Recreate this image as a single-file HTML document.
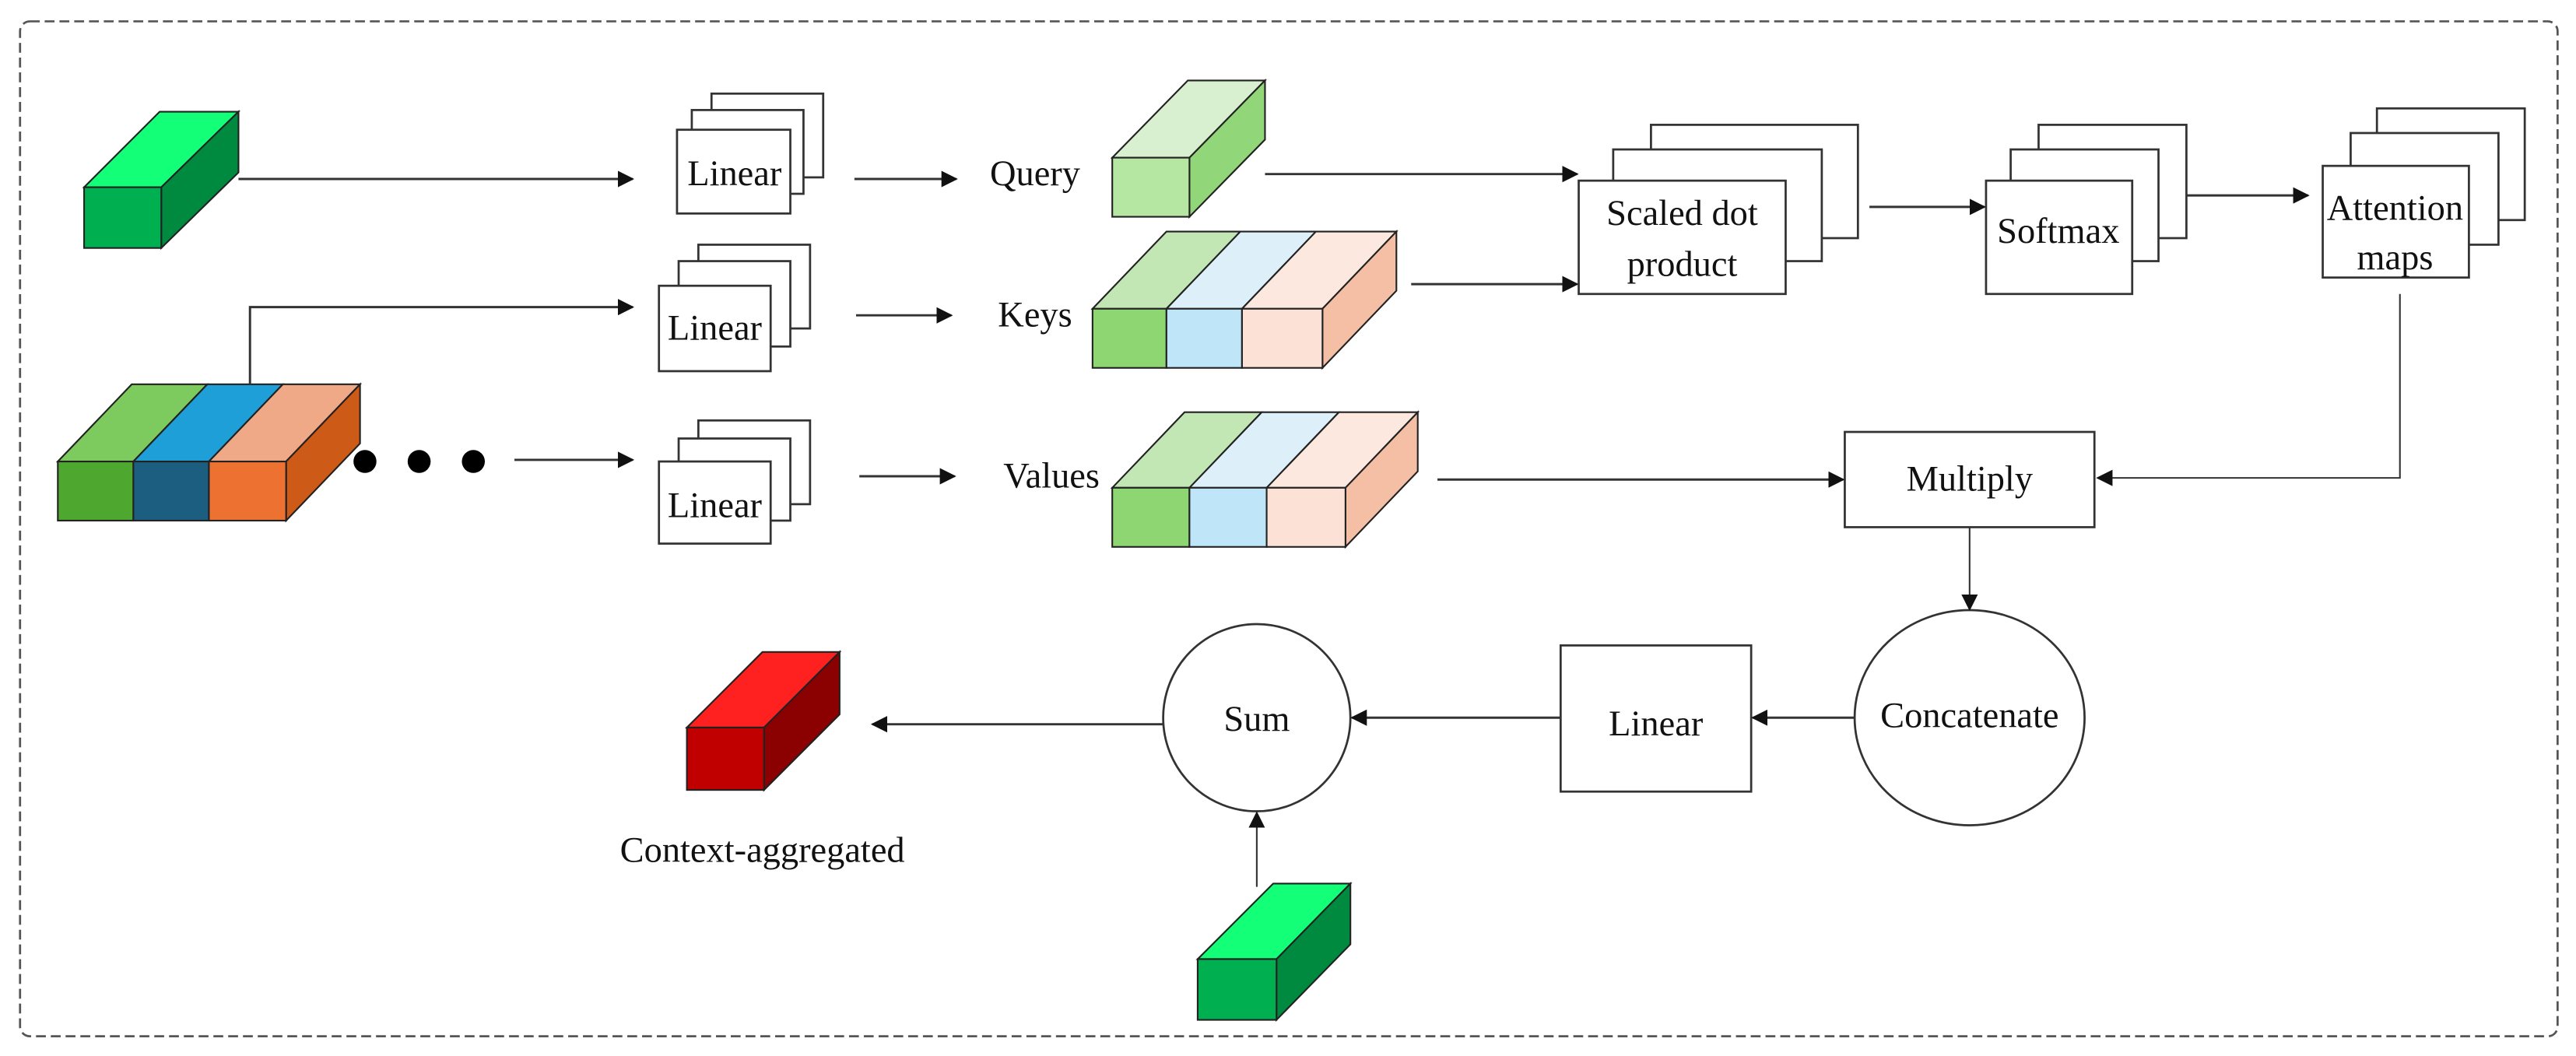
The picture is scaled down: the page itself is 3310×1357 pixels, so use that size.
<!DOCTYPE html>
<html><head><meta charset="utf-8"><style>
html,body{margin:0;padding:0;background:#fff;}
svg{display:block;}
text{font-family:"Liberation Serif",serif;font-size:22px;fill:#111;}
</style></head><body>
<svg width="3310" height="1357" viewBox="0 0 1568 643" xmlns="http://www.w3.org/2000/svg">
<defs>
<marker id="a" markerWidth="10" markerHeight="10" refX="9" refY="5" orient="auto" markerUnits="userSpaceOnUse">
<path d="M0,0 L10,5 L0,10 Z" fill="#111"/></marker>
</defs>
<rect x="12" y="13" width="1545" height="618" rx="6" fill="none" stroke="#555" stroke-width="1.3" stroke-dasharray="6,3"/>
<g stroke="#222" stroke-width="1">
<!-- green cube top-left -->
<polygon points="51,114 97,68 145,68 98,114" fill="#14FF78"/>
<polygon points="98,114 145,68 145,105 98,151" fill="#008A40"/>
<rect x="51" y="114" width="47" height="37" fill="#00B050"/>
<!-- query cube -->
<polygon points="677,96 723,49 770,49 724,96" fill="#D9F0D0"/>
<polygon points="724,96 770,49 770,85 724,132" fill="#92D67A"/>
<rect x="677" y="96" width="47" height="36" fill="#B5E6A2"/>
<!-- keys cube -->
<polygon points="665,188 710,141 755,141 710,188" fill="#C3E6B5"/>
<polygon points="710,188 755,141 801,141 756,188" fill="#DDF0FA"/>
<polygon points="756,188 801,141 850,141 805,188" fill="#FCE8DE"/>
<polygon points="805,188 850,141 850,177 805,224" fill="#F4BFA4"/>
<rect x="665" y="188" width="45" height="36" fill="#8ED672"/>
<rect x="710" y="188" width="46" height="36" fill="#BFE6F8"/>
<rect x="756" y="188" width="49" height="36" fill="#FCE2D6"/>
<!-- big cube -->
<polygon points="35,281 80,234 126,234 81,281" fill="#7DCB5E"/>
<polygon points="81,281 126,234 172,234 127,281" fill="#1F9FD7"/>
<polygon points="127,281 172,234 219,234 174,281" fill="#F0A987"/>
<polygon points="174,281 219,234 219,270 174,317" fill="#CE5A18"/>
<rect x="35" y="281" width="46" height="36" fill="#4EA72E"/>
<rect x="81" y="281" width="46" height="36" fill="#1B5E80"/>
<rect x="127" y="281" width="47" height="36" fill="#ED7232"/>
<!-- values cube -->
<polygon points="677,297 721,251 768,251 724,297" fill="#C3E6B5"/>
<polygon points="724,297 768,251 815,251 771,297" fill="#DDF0FA"/>
<polygon points="771,297 815,251 863,251 819,297" fill="#FCE8DE"/>
<polygon points="819,297 863,251 863,287 819,333" fill="#F4BFA4"/>
<rect x="677" y="297" width="47" height="36" fill="#8ED672"/>
<rect x="724" y="297" width="47" height="36" fill="#BFE6F8"/>
<rect x="771" y="297" width="48" height="36" fill="#FCE2D6"/>
<!-- red cube -->
<polygon points="418,443 464,397 511,397 465,443" fill="#FF2020"/>
<polygon points="465,443 511,397 511,435 465,481" fill="#8B0000"/>
<rect x="418" y="443" width="47" height="38" fill="#C00000"/>
<!-- bottom green cube -->
<polygon points="729,584 775,538 822,538 777,584" fill="#14FF78"/>
<polygon points="777,584 822,538 822,575 777,621" fill="#008A40"/>
<rect x="729" y="584" width="48" height="37" fill="#00B050"/>
</g>
<!-- dots -->
<g fill="#000"><ellipse cx="222" cy="281" rx="7" ry="7"/><ellipse cx="255" cy="281" rx="7" ry="7"/><ellipse cx="288" cy="281" rx="7" ry="7"/></g>
<!-- stacked boxes -->
<g fill="#fff" stroke="#333" stroke-width="1.3">
<rect x="433" y="57" width="68" height="51"/><rect x="421" y="67" width="68" height="51"/><rect x="412" y="79" width="69" height="51"/>
<rect x="425" y="149" width="68" height="51"/><rect x="413" y="159" width="68" height="52"/><rect x="401" y="174" width="68" height="52"/>
<rect x="425" y="256" width="68" height="51"/><rect x="413" y="267" width="68" height="50"/><rect x="401" y="281" width="68" height="50"/>
<rect x="1005" y="76" width="126" height="69"/><rect x="982" y="91" width="127" height="68"/><rect x="961" y="110" width="126" height="69"/>
<rect x="1241" y="76" width="90" height="69"/><rect x="1224" y="91" width="90" height="68"/><rect x="1209" y="110" width="89" height="69"/>
<rect x="1447" y="66" width="90" height="68"/><rect x="1431" y="81" width="90" height="68"/><rect x="1414" y="101" width="89" height="68"/>
<rect x="1123" y="263" width="152" height="58"/>
<rect x="950" y="393" width="116" height="89"/>
<ellipse cx="1199" cy="437" rx="70" ry="65.5"/>
<ellipse cx="765" cy="437" rx="57" ry="57"/>
</g>
<!-- connectors -->
<g fill="none" stroke="#333" stroke-width="1.4" marker-end="url(#a)">
<line x1="145" y1="109" x2="385" y2="109"/>
<line x1="520" y1="109" x2="582" y2="109"/>
<polyline points="152,234 152,187 385,187"/>
<line x1="521" y1="192" x2="579" y2="192"/>
<line x1="313" y1="280" x2="385" y2="280"/>
<line x1="523" y1="290" x2="581" y2="290"/>
<line x1="770" y1="106" x2="960" y2="106"/>
<line x1="859" y1="173" x2="960" y2="173"/>
<line x1="1138" y1="126" x2="1208" y2="126"/>
<line x1="1331" y1="119" x2="1405" y2="119"/>
<polyline points="1461,179 1461,291 1277,291" stroke-width="1"/>
<line x1="875" y1="292" x2="1122" y2="292"/>
<line x1="1199" y1="321" x2="1199" y2="371" stroke-width="1"/>
<line x1="1129" y1="437" x2="1067" y2="437"/>
<line x1="950" y1="437" x2="823" y2="437"/>
<line x1="708" y1="441" x2="531" y2="441"/>
<line x1="765" y1="540" x2="765" y2="495" stroke-width="1"/>
</g>
<!-- labels -->
<g text-anchor="middle" dominant-baseline="central">
<text x="447" y="106">Linear</text>
<text x="435" y="200">Linear</text>
<text x="435" y="308">Linear</text>
<text x="630" y="106">Query</text>
<text x="630" y="192">Keys</text>
<text x="640" y="290">Values</text>
<text x="1024" y="130">Scaled dot</text>
<text x="1024" y="161">product</text>
<text x="1253" y="141">Softmax</text>
<text x="1458" y="127">Attention</text>
<text x="1458" y="157">maps</text>
<text x="1199" y="292">Multiply</text>
<text x="1199" y="436">Concatenate</text>
<text x="1008" y="441">Linear</text>
<text x="765" y="438">Sum</text>
<text x="464" y="518">Context-aggregated</text>
</g>
</svg>
</body></html>
